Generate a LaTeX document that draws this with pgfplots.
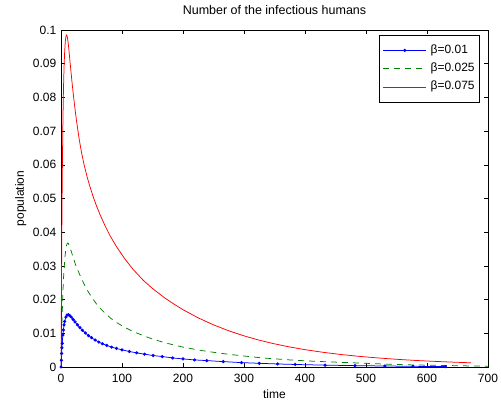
\documentclass[border=0pt]{standalone}
\usepackage{pgfplots}
\pgfplotsset{compat=1.18}
\usepackage{fontspec}
\setmainfont{Liberation Sans}
\definecolor{mgreen}{rgb}{0,0.5,0}
\begin{document}
\begin{tikzpicture}[x=1pt,y=1pt]
\useasboundingbox (0,0) rectangle (501,400);
\begin{axis}[
  at={(61pt,33pt)}, anchor=south west,
  scale only axis, width=427pt, height=337pt,
  xmin=0, xmax=700, ymin=0, ymax=0.1,
  xtick={0,100,...,700},
  ytick={0,0.01,0.02,0.03,0.04,0.05,0.06,0.07,0.08,0.09,0.1},
  yticklabels={0,0.01,0.02,0.03,0.04,0.05,0.06,0.07,0.08,0.09,0.1},
  scaled y ticks=false,
  tick align=inside, major tick length=4pt,
  tick style={black, line width=0.5pt},
  axis line style={black, line width=0.8pt},
  /pgf/number format/assume math mode=true,
  ticklabel style={font=\fontsize{12}{14}\selectfont},
  xticklabel style={anchor=base, yshift=-15.5pt},
  yticklabel style={anchor=east, inner sep=0pt, xshift=-4.5pt},
  xlabel={time}, ylabel={population},
  label style={font=\fontsize{12}{14}\selectfont},
  xlabel style={at={(axis description cs:0.5,0)}, anchor=base, yshift=-31pt},
  ylabel style={at={(axis description cs:-0.0867,0.5)}, anchor=base, rotate=0},
  title={Number of the infectious humans},
  title style={font=\fontsize{12.5}{14}\selectfont, at={(axis description cs:0.5,1)}, anchor=base, yshift=10pt},
  legend style={font=\fontsize{12}{14}\selectfont, draw=black, line width=0.8pt,
    at={(axis description cs:0.9813,0.9852)}, anchor=north east,
    inner xsep=4pt, inner ysep=8pt,
    nodes={inner sep=1pt, text height=9pt, text depth=3pt},
    row sep=4.3pt, column sep=0pt},
  /tikz/every odd column/.append style={column sep=3pt},
  legend cell align=left,
  legend image code/.code={\draw[mark repeat=2,mark phase=2,#1] plot coordinates {(0pt,0pt) (21.5pt,0pt) (43pt,0pt)};},
]
\addplot[blue, line width=0.75pt, mark=*, mark size=1.2pt, mark options={solid}] coordinates {
(0,0) (0.5,0.002) (1,0.004) (1.5,0.0057) (2,0.007) (3,0.0095) (4,0.011) (5,0.0125) (6,0.0135) (8,0.0148) (10,0.0154) (12,0.0155) (14,0.0153) (17,0.0148) (20,0.0141) (23,0.0134) (27,0.0125) (31,0.0117) (35,0.0109) (40,0.0101) (45,0.0093) (50,0.0087) (56,0.0080) (62,0.0074) (68,0.0069) (75,0.0064) (83,0.0059) (91,0.0055) (100,0.0051) (112,0.0046) (124,0.0042) (137,0.0038) (151,0.0034) (166,0.0031) (183,0.0027) (200,0.0024) (219,0.0021) (239,0.0019) (266,0.0016) (296,0.0013) (325,0.0011) (355,0.0009) (384,0.00075) (433,0.00055) (482,0.0004) (531,0.0003) (577,0.0002) (630,0.00012)
};
\addlegendentry{β=0.01}
\addplot[mgreen, line width=0.75pt, dash pattern=on 6pt off 5pt] coordinates {
(0,0) (0.5,0.005) (1,0.009) (2,0.016) (3,0.0215) (4,0.026) (5,0.029) (6,0.0315) (7,0.0335) (8,0.035) (9,0.036) (10,0.0366) (11,0.0368) (12,0.0367) (14,0.0358) (17,0.0342) (20,0.0325) (24,0.0303) (30,0.0277) (37,0.0249) (45,0.0222) (53,0.0200) (62,0.0178) (72,0.0160) (82,0.0144) (91,0.0132) (105,0.0117) (118.5,0.0105) (135,0.0093) (150,0.0083) (170,0.0072) (200,0.0059) (230,0.0049) (260,0.0041) (293,0.0034) (330,0.0027) (375,0.0021) (415,0.0017) (457,0.0014) (500,0.0011) (539,0.0008) (580,0.0006) (630,0.00045) (675,0.0003) (700,0.00025)
};
\addlegendentry{β=0.025}
\addplot[red, line width=0.75pt] coordinates {
(0,0) (0.5,0.014) (1,0.03) (1.5,0.044) (2,0.055) (3,0.071) (4,0.082) (5,0.089) (6,0.0935) (7,0.0965) (8,0.098) (9,0.0985) (10,0.0982) (11,0.0972) (12,0.0958) (13,0.094) (14,0.0921) (15,0.0902) (17.5,0.0855) (20,0.0812) (23,0.0765) (26,0.0723) (30,0.0674) (34,0.0633) (38,0.0599) (43,0.0563) (48,0.0532) (53,0.0504) (58,0.0479) (64,0.0452) (72,0.0420) (80,0.0391) (91,0.0357) (105,0.0320) (118,0.0290) (135,0.0257) (150,0.0233) (170,0.0205) (185,0.0187) (200,0.0170) (225,0.01457) (250,0.01251) (275,0.01074) (300,0.00924) (325,0.00796) (350,0.00687) (375,0.00594) (400,0.00515) (430,0.00435) (460,0.00369) (490,0.00314) (520,0.00268) (550,0.00229) (580,0.00196) (610,0.00169) (640,0.00146) (672,0.00125)
};
\addlegendentry{β=0.075}
\end{axis}
\end{tikzpicture}
\end{document}
